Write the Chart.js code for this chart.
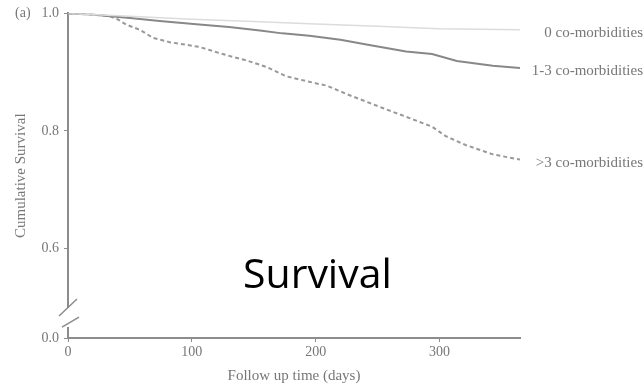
<!DOCTYPE html>
<html>
<head>
<meta charset="utf-8">
<script src="https://cdn.jsdelivr.net/npm/chart.js@4/dist/chart.umd.min.js"></script>
<style>
  html, body { margin: 0; padding: 0; background: #fff; }
</style>
</head>
<body>
<canvas id="chart" width="644" height="387"></canvas>
<script>
// follow-up days and cumulative survival
const days0 = [0, 50, 100, 150, 200, 250, 300, 365];
const surv0 = [1.0, 0.995, 0.990, 0.986, 0.982, 0.978, 0.974, 0.972];

const days13 = [0, 20, 34, 50, 74, 106, 130, 155, 173, 195, 220, 241, 273, 294, 314, 343, 365];
const surv13 = [1.0, 0.998, 0.995, 0.992, 0.987, 0.981, 0.977, 0.971, 0.966, 0.962, 0.955, 0.947, 0.935, 0.931, 0.919, 0.911, 0.907];

const daysHi = [0, 20, 34, 40, 47, 58, 69, 82, 106, 123, 133, 144, 160, 176, 200, 209, 227, 254, 278, 294, 305, 321, 343, 365];
const survHi = [1.0, 0.998, 0.995, 0.990, 0.981, 0.972, 0.958, 0.951, 0.943, 0.932, 0.926, 0.920, 0.909, 0.893, 0.881, 0.877, 0.861, 0.839, 0.820, 0.807, 0.791, 0.776, 0.760, 0.751];

const seriesLabels = ["0 co-morbidities", "1-3 co-morbidities", ">3 co-morbidities"];
const xTicks = [0, 100, 200, 300];
const yTicks = [0.6, 0.8, 1.0];
const yLowTicks = [0];

const toPts = (xs, ys) => xs.map((d, i) => ({ x: d, y: ys[i] }));

const serif = "'Liberation Serif', 'DejaVu Serif', serif";
const grey = "#777";
const axisGrey = "#8c8c8c";

Chart.defaults.font.family = serif;
Chart.defaults.font.size = 14;
Chart.defaults.color = grey;

// extra text, the axis break and the line end labels
const decorations = {
  id: "decorations",
  afterDraw(chart) {
    const { ctx, chartArea, scales } = chart;
    const y = scales.y, yLow = scales.yLow;
    ctx.save();

    // axis break
    ctx.strokeStyle = axisGrey;
    ctx.lineWidth = 2;
    const ax = chartArea.left;
    ctx.beginPath();
    ctx.moveTo(ax, yLow.bottom - 11);
    ctx.lineTo(ax, yLow.bottom);
    ctx.stroke();
    ctx.lineWidth = 1.5;
    ctx.beginPath();
    ctx.moveTo(ax - 9, y.bottom + 9);
    ctx.lineTo(ax + 9, y.bottom - 8);
    ctx.moveTo(ax - 6, y.bottom + 20);
    ctx.lineTo(ax + 11, y.bottom + 10);
    ctx.stroke();

    // y title
    ctx.fillStyle = grey;
    ctx.font = "15px " + serif;
    ctx.textAlign = "center";
    ctx.textBaseline = "middle";
    ctx.save();
    ctx.translate(21, (y.top + yLow.bottom) / 2);
    ctx.rotate(-Math.PI / 2);
    ctx.fillText("Cumulative Survival", 0, 0);
    ctx.restore();

    // panel letter
    ctx.font = "14px " + serif;
    ctx.textAlign = "left";
    ctx.fillText("(a)", 15, y.getPixelForValue(1.0));

    // labels at line ends
    ctx.font = "15px " + serif;
    ctx.textAlign = "right";
    chart.data.datasets.forEach((ds, i) => {
      const last = ds.data[ds.data.length - 1];
      ctx.fillText(seriesLabels[i], chart.width - 1, y.getPixelForValue(last.y) + 3);
    });

    // big overlay word
    ctx.fillStyle = "#000";
    ctx.font = "41px 'Open Sans', sans-serif";
    ctx.textAlign = "left";
    ctx.textBaseline = "alphabetic";
    ctx.fillText("Survival", 243, 288);
    ctx.restore();
  },
};

new Chart(document.getElementById("chart"), {
  type: "line",
  data: {
    datasets: [
      {
        label: seriesLabels[0],
        data: toPts(days0, surv0),
        yAxisID: "y",
        borderColor: "#dcdcdc",
        borderWidth: 1.5,
      },
      {
        label: seriesLabels[1],
        data: toPts(days13, surv13),
        yAxisID: "y",
        borderColor: "#888",
        borderWidth: 2,
      },
      {
        label: seriesLabels[2],
        data: toPts(daysHi, survHi),
        yAxisID: "y",
        borderColor: "#999",
        borderWidth: 2,
        borderDash: [4, 3],
      },
    ],
  },
  options: {
    responsive: false,
    animation: false,
    devicePixelRatio: 1,
    layout: { padding: { left: 0, right: 124, top: 13, bottom: 0 } },
    elements: { point: { radius: 0 }, line: { tension: 0 } },
    plugins: { legend: { display: false }, tooltip: { enabled: false } },
    scales: {
      x: {
        type: "linear",
        min: 0,
        max: 365,
        afterBuildTicks: (s) => { s.ticks = xTicks.map((v) => ({ value: v })); },
        ticks: { padding: 2, callback: (v) => String(v) },
        grid: { drawOnChartArea: false, tickLength: 4, color: axisGrey },
        border: { color: axisGrey, width: 2 },
        title: { display: true, text: "Follow up time (days)", font: { size: 15 }, padding: { top: 0, bottom: 2 } },
        afterFit: (s) => { s.height = 49; },
      },
      // the low part of the broken axis is declared first so it stacks below
      yLow: {
        type: "linear",
        position: "left",
        stack: "km",
        stackWeight: 31,
        min: 0,
        max: 0.05,
        afterBuildTicks: (s) => { s.ticks = yLowTicks.map((v) => ({ value: v })); },
        ticks: { padding: 5, callback: (v) => v.toFixed(1) },
        grid: { drawOnChartArea: false, tickLength: 4, color: axisGrey },
        border: { display: false },
        afterFit: (s) => { s.width = 68; },
      },
      y: {
        type: "linear",
        position: "left",
        stack: "km",
        stackWeight: 294,
        min: 0.5,
        max: 1.0,
        afterBuildTicks: (s) => { s.ticks = yTicks.map((v) => ({ value: v })); },
        ticks: { padding: 5, callback: (v) => v.toFixed(1) },
        grid: { drawOnChartArea: false, tickLength: 4, color: axisGrey },
        border: { color: axisGrey, width: 2 },
        afterFit: (s) => { s.width = 68; },
      },
    },
  },
  plugins: [decorations],
});
</script>
</body>
</html>
